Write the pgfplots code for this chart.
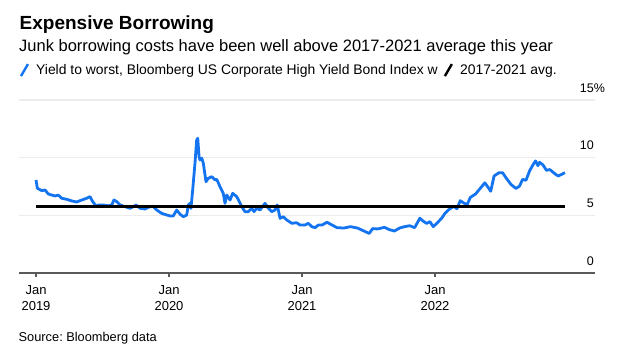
\documentclass[border=0pt]{standalone}
\usepackage{pgfplots}
\pgfplotsset{compat=1.18}
\usepackage{fontspec}
\setmainfont{Liberation Sans}
\frenchspacing
\definecolor{bblue}{RGB}{20,116,240}
\definecolor{gridc}{RGB}{236,236,236}
\definecolor{axisc}{RGB}{90,90,90}
\begin{document}
\begin{tikzpicture}
\path[use as bounding box] (0,0) rectangle (624pt,-357pt);
\node[anchor=base west, inner sep=0pt, font=\fontsize{19}{22}\selectfont\bfseries] at (19.5pt,-29.3pt) {Expensive Borrowing};
\node[anchor=base west, inner sep=0pt, font=\fontsize{16.5}{19}\selectfont] at (19pt,-51.7pt) {Junk borrowing costs have been well above 2017-2021 average this year};
\node[anchor=base west, inner sep=0pt, font=\fontsize{12.8}{15}\selectfont] at (18.5pt,-341.7pt) {Source: Bloomberg data};
\begin{axis}[
  at={(19pt,-273pt)}, anchor=south west,
  scale only axis, width=576pt, height=173pt,
  xmin=-0.128, xmax=4.203, ymin=0, ymax=15,
  axis x line*=bottom, axis y line*=right,
  y axis line style={draw=none},
  x axis line style={axisc, line width=1.4pt},
  xtick={0,1,2,3},
  xticklabels={Jan\\2019,Jan\\2020,Jan\\2021,Jan\\2022},
  xticklabel style={align=center, font=\fontsize{13}{16.5}\selectfont, yshift=-5pt},
  ytick={0,5,10,15},
  yticklabels={0,5,10,15\rlap{\%}},
  yticklabel style={anchor=base east, inner sep=0pt, font=\fontsize{12.5}{15}\selectfont, xshift=-5pt, yshift=8pt},
  ymajorgrids, grid style={gridc, line width=1.5pt},
  ytick style={draw=none},
  xtick style={axisc, line width=1.2pt},
  tick align=outside, major tick length=4pt,
  /pgf/number format/assume math mode=true,
  legend columns=2,
  legend style={draw=none, fill=none, at={(axis description cs:0.001,1.173)}, anchor=west,
    font=\fontsize{13.9}{16}\selectfont, inner sep=0pt,
    /tikz/every even column/.append style={column sep=4pt},
    /tikz/every odd column/.append style={column sep=5pt}},
  legend image code/.code={\draw[#1, line width=2.4pt] (0pt,-6pt) -- (7pt,6pt);},
]
\addplot[bblue, line width=2.8pt, line join=round] coordinates {
(0.000,8.07) (0.010,7.35) (0.043,7.14) (0.068,7.20) (0.092,6.85) (0.143,6.68)
(0.168,6.75) (0.193,6.48) (0.231,6.39) (0.268,6.25) (0.306,6.16) (0.344,6.33)
(0.381,6.48) (0.406,6.62) (0.426,6.19) (0.456,5.75) (0.468,5.90) (0.506,5.90)
(0.544,5.83) (0.569,5.90) (0.586,6.33) (0.607,6.19) (0.632,5.90) (0.669,5.75)
(0.707,5.61) (0.732,5.75) (0.752,5.90) (0.782,5.61) (0.820,5.55) (0.844,5.70)
(0.877,5.80) (0.908,5.46) (0.945,5.17) (0.983,5.03) (1.008,4.95) (1.032,4.95)
(1.058,5.46) (1.083,5.10) (1.108,4.88) (1.133,5.03) (1.145,5.90) (1.158,6.04)
(1.165,5.60) (1.178,7.20) (1.195,9.50) (1.208,11.53) (1.216,11.68) (1.226,10.09)
(1.233,9.80) (1.246,9.96) (1.258,9.51) (1.278,7.92) (1.295,8.21) (1.321,8.35)
(1.346,8.07) (1.359,8.12) (1.383,7.49) (1.408,6.91) (1.421,6.04) (1.434,6.76)
(1.459,6.33) (1.479,6.91) (1.509,6.62) (1.529,6.19) (1.547,5.75) (1.571,5.32)
(1.596,5.32) (1.622,5.61) (1.639,5.32) (1.659,5.61) (1.684,5.46) (1.722,6.04)
(1.747,5.61) (1.772,5.32) (1.797,5.46) (1.814,5.90) (1.835,4.74) (1.860,4.88)
(1.885,4.60) (1.923,4.31) (1.960,4.36) (1.985,4.16) (2.023,4.16) (2.047,4.31)
(2.073,4.02) (2.098,3.93) (2.123,4.16) (2.150,4.16) (2.188,4.40) (2.226,4.16)
(2.263,3.93) (2.315,3.90) (2.365,4.02) (2.417,3.90) (2.466,3.64) (2.505,3.43)
(2.531,3.85) (2.568,3.82) (2.620,3.96) (2.657,3.76) (2.695,3.64) (2.734,3.90)
(2.771,4.02) (2.810,4.10) (2.847,3.93) (2.886,4.75) (2.911,4.50) (2.937,4.30)
(2.962,4.45) (2.987,4.02) (3.013,4.30) (3.050,4.75) (3.076,5.19) (3.102,5.48)
(3.140,5.78) (3.165,5.57) (3.190,6.27) (3.216,6.07) (3.241,5.92) (3.266,6.56)
(3.305,6.85) (3.343,7.38) (3.375,7.82) (3.393,7.53) (3.419,7.09) (3.444,8.41)
(3.482,8.70) (3.508,8.70) (3.533,8.27) (3.571,7.68) (3.609,7.33) (3.635,7.53)
(3.659,8.12) (3.684,8.04) (3.711,8.85) (3.736,9.37) (3.756,9.72) (3.774,9.30)
(3.786,9.60) (3.812,9.37) (3.838,8.90) (3.863,8.97) (3.901,8.61) (3.926,8.41)
(3.952,8.55) (3.977,8.70)
};
\addlegendentry{Yield to worst, Bloomberg US Corporate High Yield Bond Index w}
\addplot[black, line width=2.6pt] coordinates {(0,5.77) (3.98,5.77)};
\addlegendentry{2017-2021 avg.}
\end{axis}
\end{tikzpicture}
\end{document}
